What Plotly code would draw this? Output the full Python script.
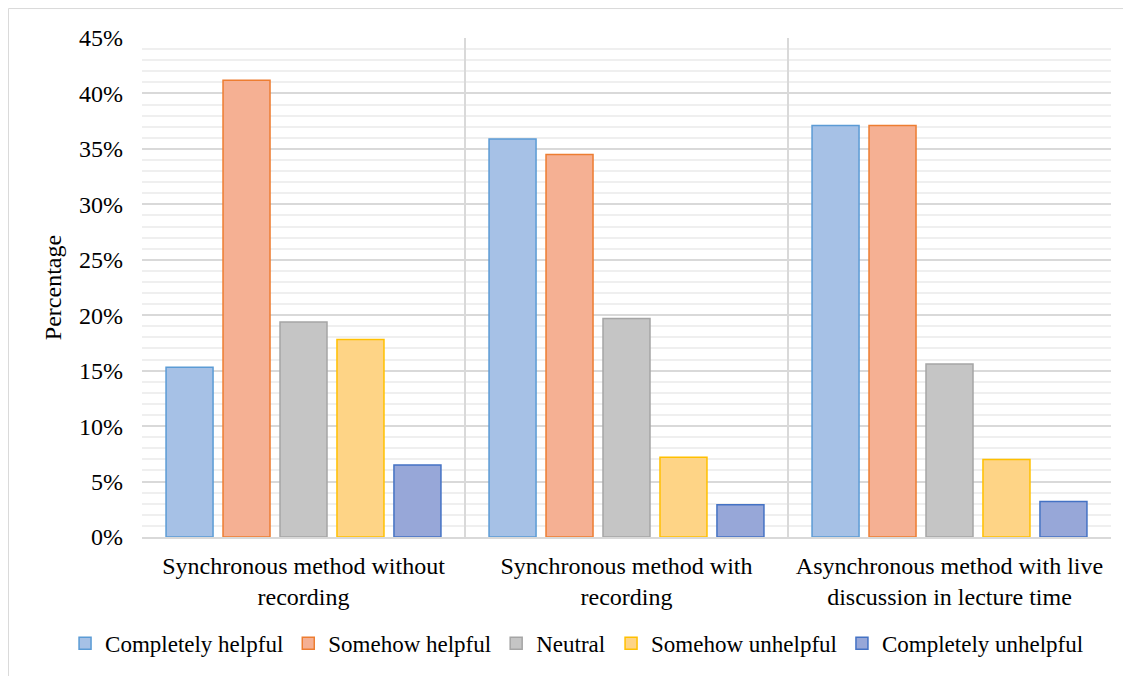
import plotly.graph_objects as go

categories = [
    "Synchronous method without<br>recording",
    "Synchronous method with<br>recording",
    "Asynchronous method with live<br>discussion in lecture time",
]
series_names = ["Completely helpful", "Somehow helpful", "Neutral",
                "Somehow unhelpful", "Completely unhelpful"]
completely_helpful = [0.153, 0.359, 0.371]
somehow_helpful = [0.412, 0.345, 0.371]
neutral = [0.194, 0.197, 0.156]
somehow_unhelpful = [0.178, 0.072, 0.070]
completely_unhelpful = [0.065, 0.029, 0.032]

series_values = [completely_helpful, somehow_helpful, neutral,
                 somehow_unhelpful, completely_unhelpful]
fills = ["#a6c1e6", "#f5b093", "#c5c5c5", "#fed486", "#97a7d8"]
borders = ["#5b9bd5", "#ed7d31", "#a5a5a5", "#ffc000", "#4472c4"]
legend_ids = ["legend", "legend", "legend", "legend2", "legend2"]

FF = "Liberation Serif"
FS = 24
LFS = 23

fig = go.Figure()
for name, vals, fc, bc, lg in zip(series_names, series_values, fills, borders, legend_ids):
    fig.add_trace(go.Bar(
        x=categories, y=vals, name=name, legend=lg,
        marker=dict(color=fc, line=dict(color=bc, width=1.5)),
    ))

legend_common = dict(orientation="h", xref="container", yref="container",
                     y=0.049, yanchor="middle",
                     font=dict(family=FF, size=LFS, color="black"),
                     itemwidth=30, tracegroupgap=0)

fig.update_layout(
    width=1123, height=668,
    barmode="group", bargap=0.118, bargroupgap=0.175,
    plot_bgcolor="white", paper_bgcolor="white",
    margin=dict(l=134, r=20, t=30, b=139, autoexpand=False),
    font=dict(family=FF, size=FS, color="black"),
    legend=dict(x=0.537, xanchor="right", **legend_common),
    legend2=dict(x=0.537, xanchor="left", **legend_common),
    shapes=[dict(type="rect", xref="paper", yref="paper",
                 x0=-0.1378, x1=1.05, y0=-0.35, y1=1.059,
                 line=dict(color="#d9d9d9", width=1), fillcolor="rgba(0,0,0,0)",
                 layer="below")],
)
fig.update_xaxes(
    tickson="boundaries", showgrid=True, gridcolor="#d9d9d9", gridwidth=1.5,
    showline=True, linecolor="#d9d9d9", linewidth=1.5, mirror=False,
    ticks="", tickfont=dict(family=FF, size=FS, color="black"),
    ticklabelstandoff=6, automargin=False,
)
fig.update_yaxes(
    range=[0, 0.45], dtick=0.05, tickformat=".0%",
    showgrid=True, gridcolor="#d9d9d9", gridwidth=1.5,
    minor=dict(dtick=0.01, showgrid=True, gridcolor="#efefef", gridwidth=1.5),
    zeroline=False, ticks="", tickfont=dict(family=FF, size=FS, color="black"),
    ticklabelstandoff=18, automargin=False,
    title=dict(text="Percentage", font=dict(family=FF, size=FS, color="black"),
               standoff=10),
)

fig.write_html("out.html")
